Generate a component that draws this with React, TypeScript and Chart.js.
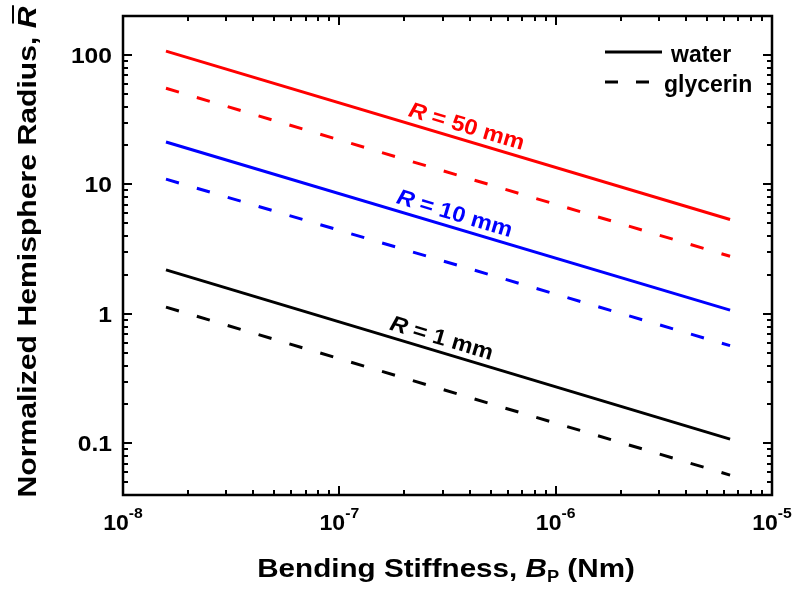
import React, { useEffect, useRef } from "react";
import { Chart, registerables } from "chart.js";

Chart.register(...registerables);

// ---- data ----
const bendingStiffness = [1.58e-8, 6.4e-6];
const water50 = [107, 5.37];
const glycerin50 = [55.3, 2.79];
const water10 = [21.3, 1.07];
const glycerin10 = [11.0, 0.569];
const water1 = [2.19, 0.108];
const glycerin1 = [1.13, 0.057];

const xMin = 1e-8;
const xMax = 1e-5;
const yMin = 0.04;
const yMax = 200;

const xTickExponents = [-8, -7, -6, -5];
const yTickValues = [0.1, 1, 10, 100];
const yTickLabels = ["0.1", "1", "10", "100"];
const legendLabels = ["water", "glycerin"];
const curveLabelTexts = ["50 mm", "10 mm", "1 mm"];
const curveLabelAnchors = [3.72e-7, 3.27e-7, 2.85e-7];

const RED = "#ff0000";
const BLUE = "#0000ff";
const BLACK = "#000000";
const DASH = [13.5, 18.7];
const FONT = '"Liberation Sans", Arial, sans-serif';

function pts(ys: number[]) {
  return bendingStiffness.map((x, i) => ({ x, y: ys[i] }));
}

type Seg = { text: string; font: string; dy?: number; overline?: boolean };

function drawSegs(
  ctx: CanvasRenderingContext2D,
  segs: Seg[],
  x: number,
  y: number,
  align: "left" | "center" | "right",
  sx = 1
) {
  let total = 0;
  const widths = segs.map((s) => {
    ctx.font = s.font;
    const w = ctx.measureText(s.text).width;
    total += w;
    return w;
  });
  ctx.save();
  ctx.translate(x, y);
  ctx.scale(sx, 1);
  let cx = align === "left" ? 0 : align === "center" ? -total / 2 : -total;
  segs.forEach((s, i) => {
    ctx.font = s.font;
    ctx.textAlign = "left";
    ctx.textBaseline = "alphabetic";
    ctx.fillText(s.text, cx, s.dy || 0);
    if (s.overline) {
      ctx.save();
      ctx.strokeStyle = ctx.fillStyle as string;
      ctx.lineWidth = 2;
      ctx.beginPath();
      ctx.moveTo(cx + 4, -22.5);
      ctx.lineTo(cx + widths[i] + 1, -22.5);
      ctx.stroke();
      ctx.restore();
    }
    cx += widths[i];
  });
  ctx.restore();
}

const decorPlugin = {
  id: "decor",
  afterDatasetsDraw(chart: any) {
    const ctx: CanvasRenderingContext2D = chart.ctx;
    const xs = chart.scales.x;
    const ys = chart.scales.y;
    const { left, right, top, bottom } = chart.chartArea;
    ctx.save();
    ctx.strokeStyle = BLACK;
    ctx.fillStyle = BLACK;

    // ticks (inward, mirrored)
    ctx.lineWidth = 2;
    for (let e = -8; e <= -5; e++) {
      for (let m = 1; m <= 9; m++) {
        const v = m * Math.pow(10, e);
        if (v < xMin * 0.999 || v > xMax * 1.001) continue;
        const px = Math.round(xs.getPixelForValue(v));
        const len = m === 1 ? 9 : 5;
        ctx.beginPath();
        ctx.moveTo(px, bottom);
        ctx.lineTo(px, bottom - len);
        ctx.moveTo(px, top);
        ctx.lineTo(px, top + len);
        ctx.stroke();
      }
    }
    for (let e = -2; e <= 2; e++) {
      for (let m = 1; m <= 9; m++) {
        const v = m * Math.pow(10, e);
        if (v < yMin * 0.999 || v > yMax * 1.001) continue;
        const py = Math.round(ys.getPixelForValue(v));
        const len = m === 1 ? 9 : 5;
        ctx.beginPath();
        ctx.moveTo(left, py);
        ctx.lineTo(left + len, py);
        ctx.moveTo(right, py);
        ctx.lineTo(right - len, py);
        ctx.stroke();
      }
    }

    // frame
    ctx.lineWidth = 2.5;
    ctx.strokeRect(left, top, right - left, bottom - top);

    // x tick labels
    xTickExponents.forEach((ex) => {
      const px = xs.getPixelForValue(Math.pow(10, ex));
      drawSegs(
        ctx,
        [
          { text: "10", font: `bold 22px ${FONT}` },
          { text: String(ex), font: `bold 15px ${FONT}`, dy: -12 },
        ],
        px,
        bottom + 35,
        "center",
        1.05
      );
    });

    // y tick labels
    yTickValues.forEach((v, i) => {
      const py = ys.getPixelForValue(v);
      drawSegs(ctx, [{ text: yTickLabels[i], font: `bold 22px ${FONT}` }], left - 11, py + 8, "right", 1.12);
    });

    // x axis title
    drawSegs(
      ctx,
      [
        { text: "Bending Stiffness, ", font: `bold 26px ${FONT}` },
        { text: "B", font: `italic bold 26px ${FONT}` },
        { text: "P", font: `bold 16px ${FONT}`, dy: 5 },
        { text: " (Nm)", font: `bold 26px ${FONT}` },
      ],
      446,
      577,
      "center",
      1.14
    );

    // y axis title
    ctx.save();
    ctx.translate(35.5, 252);
    ctx.rotate(-Math.PI / 2);
    drawSegs(
      ctx,
      [
        { text: "Normalized Hemisphere Radius, ", font: `bold 26px ${FONT}` },
        { text: "R", font: `italic bold 26px ${FONT}`, overline: true },
      ],
      0,
      0,
      "center",
      1.16
    );
    ctx.restore();

    // legend
    const legendX1 = 605;
    const legendX2 = 662;
    const legendY = [52, 82];
    const legendTextX = [671, 664];
    legendLabels.forEach((lab, i) => {
      ctx.save();
      ctx.lineWidth = 3;
      ctx.setLineDash(i === 0 ? [] : [13, 18]);
      ctx.beginPath();
      ctx.moveTo(legendX1, legendY[i]);
      ctx.lineTo(legendX2, legendY[i]);
      ctx.stroke();
      ctx.restore();
      drawSegs(ctx, [{ text: lab, font: `bold 23px ${FONT}` }], legendTextX[i], legendY[i] + 9.5, "left", 1);
    });

    // curve labels along the solid (water) lines
    const solidIdx = [0, 2, 4];
    solidIdx.forEach((di, k) => {
      const meta = chart.getDatasetMeta(di);
      const p0 = meta.data[0];
      const p1 = meta.data[meta.data.length - 1];
      const ang = Math.atan2(p1.y - p0.y, p1.x - p0.x);
      const ax = xs.getPixelForValue(curveLabelAnchors[k]);
      const t = (ax - p0.x) / (p1.x - p0.x);
      const ay = p0.y + t * (p1.y - p0.y);
      const off = 15;
      const cx = ax + off * Math.sin(ang);
      const cy = ay - off * Math.cos(ang);
      ctx.save();
      ctx.translate(cx, cy);
      ctx.rotate(ang);
      ctx.fillStyle = chart.data.datasets[di].borderColor;
      drawSegs(
        ctx,
        [
          { text: "R", font: `italic bold 22px ${FONT}` },
          { text: " = " + curveLabelTexts[k], font: `bold 22px ${FONT}` },
        ],
        0,
        8,
        "center",
        1.08
      );
      ctx.restore();
    });

    ctx.restore();
  },
};

export default function App() {
  const ref = useRef<HTMLCanvasElement | null>(null);
  useEffect(() => {
    if (!ref.current) return;
    const mk = (label: string, ys: number[], color: string, dashed: boolean) => ({
      label,
      data: pts(ys),
      borderColor: color,
      backgroundColor: color,
      borderWidth: 3,
      borderDash: dashed ? DASH : [],
      pointRadius: 0,
      fill: false,
      tension: 0,
    });
    const chart = new Chart(ref.current, {
      type: "line",
      data: {
        datasets: [
          mk("water R=50", water50, RED, false),
          mk("glycerin R=50", glycerin50, RED, true),
          mk("water R=10", water10, BLUE, false),
          mk("glycerin R=10", glycerin10, BLUE, true),
          mk("water R=1", water1, BLACK, false),
          mk("glycerin R=1", glycerin1, BLACK, true),
        ],
      },
      options: {
        responsive: false,
        animation: false,
        layout: { padding: { left: 123, right: 21, top: 16, bottom: 97 } },
        scales: {
          x: { type: "logarithmic", min: xMin, max: xMax, display: false },
          y: { type: "logarithmic", min: yMin, max: yMax, display: false },
        },
        plugins: { legend: { display: false }, tooltip: { enabled: false } },
      } as any,
      plugins: [decorPlugin],
    });
    return () => chart.destroy();
  }, []);
  return (
    <div style={{ position: "absolute", left: 0, top: 0, width: 793, height: 592, background: "#fff" }}>
      <canvas ref={ref} width={793} height={592} style={{ width: 793, height: 592, display: "block" }} />
    </div>
  );
}
